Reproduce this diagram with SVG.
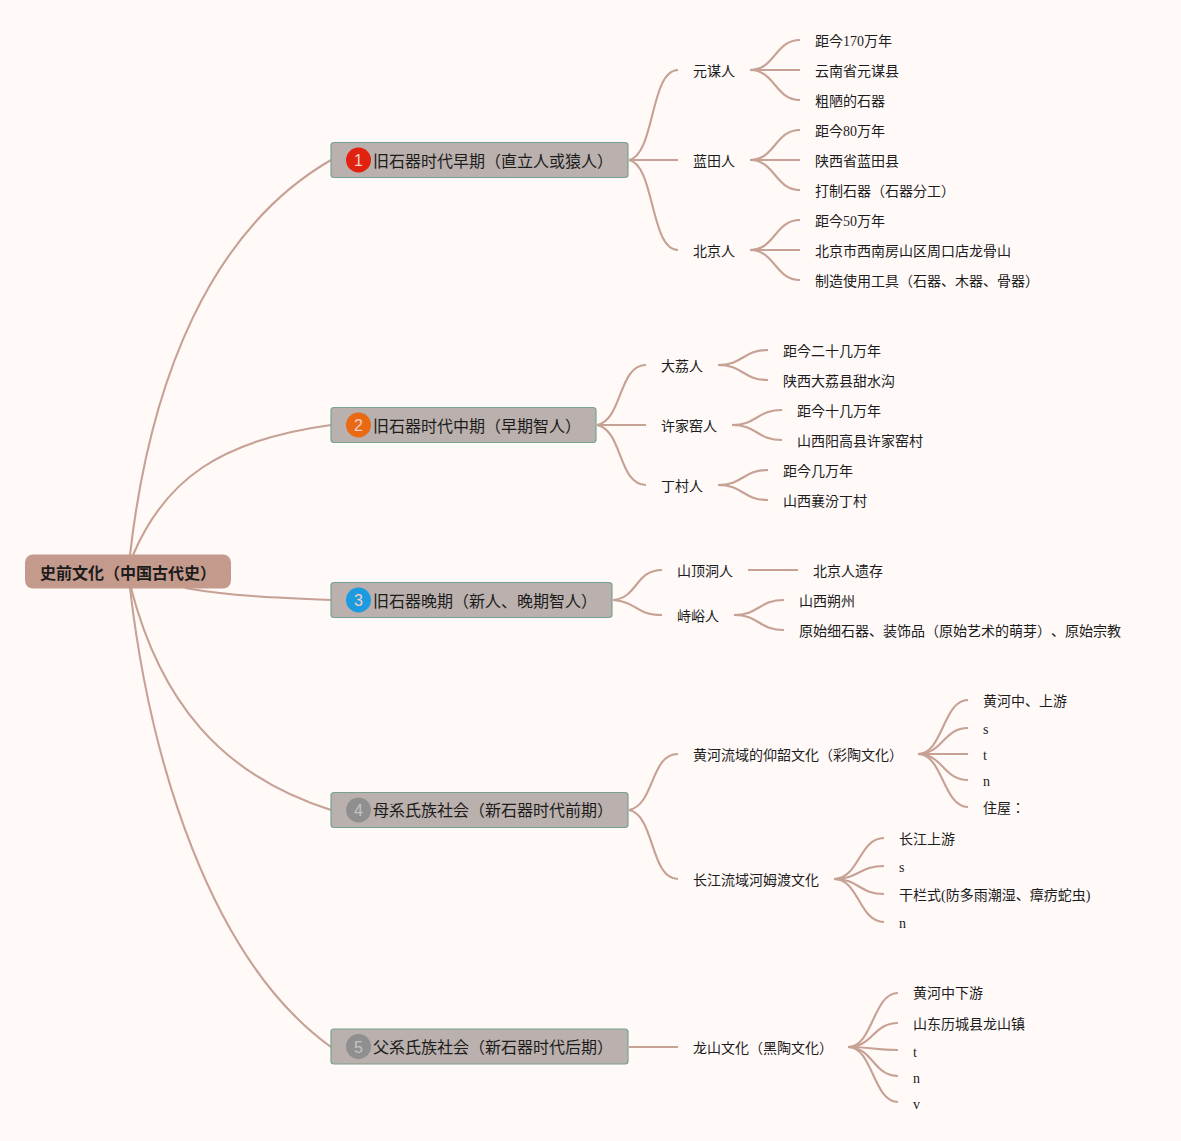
<svg xmlns="http://www.w3.org/2000/svg" width="1181" height="1141" viewBox="0 0 1181 1141">
<style>
text{font-family:"Liberation Serif","Noto Sans CJK JP",serif;fill:#1c1c1c;font-size:14px;text-spacing-trim:space-all}
.m{font-size:16px}
.r{font-size:16px;font-weight:700}
.b{fill:#bab0ad;stroke:#78a292;stroke-width:1.2}
.n{font-family:"Liberation Sans",sans-serif;font-size:16px;fill:#f3d0c8;text-anchor:middle}
.g{fill:#c4c4c4}
#c path{fill:none;stroke:#c6a194;stroke-width:2.100}
</style>
<rect width="1181" height="1141" fill="#fff9f8"/>
<g id="c">
<path d="M130 555C150 380 210 230 331 160"/>
<path d="M133 555C165 480 220 440 331 425"/>
<path d="M185 588C230 596 280 598 331 600"/>
<path d="M131 588C160 700 220 775 331 810"/>
<path d="M130 588C150 760 210 960 331 1047"/>
<path d="M629 160C655 155 650 70 678 70"/>
<path d="M629 160H678"/>
<path d="M629 160C655 165 650 250 678 250"/>
<path d="M750 70C775 70 775 40 800 40"/><path d="M750 70H800"/><path d="M750 70C775 70 775 100 800 100"/>
<path d="M750 160C775 160 775 130 800 130"/><path d="M750 160H800"/><path d="M750 160C775 160 775 190 800 190"/>
<path d="M750 250C775 250 775 220 800 220"/><path d="M750 250H800"/><path d="M750 250C775 250 775 280 800 280"/>
<path d="M597 425C623 420 618 365 646 365"/>
<path d="M597 425H646"/>
<path d="M597 425C623 430 618 485 646 485"/>
<path d="M718 365C743 365 743 350 768 350"/><path d="M718 365C743 365 743 380 768 380"/>
<path d="M732 425C757 425 757 410 782 410"/><path d="M732 425C757 425 757 440 782 440"/>
<path d="M718 485C743 485 743 470 768 470"/><path d="M718 485C743 485 743 500 768 500"/>
<path d="M613 600C638 598 635 570 662 570"/>
<path d="M613 600C638 602 635 615 662 615"/>
<path d="M748 570H798"/>
<path d="M734 615C759 615 759 600 784 600"/><path d="M734 615C759 615 759 630 784 630"/>
<path d="M629 810C655 805 650 754 678 754"/>
<path d="M629 810C655 815 650 879 678 879"/>
<path d="M918 754C943 754 943 700 968 700"/><path d="M918 754C943 754 943 728 968 728"/><path d="M918 754H968"/><path d="M918 754C943 754 943 780 968 780"/><path d="M918 754C943 754 943 807 968 807"/>
<path d="M834 879C859 879 859 838 884 838"/><path d="M834 879C859 879 859 866 884 866"/><path d="M834 879C859 879 859 894 884 894"/><path d="M834 879C859 879 859 922 884 922"/>
<path d="M629 1047H678"/>
<path d="M848 1047C873 1047 873 993 898 993"/><path d="M848 1047C873 1047 873 1023 898 1023"/><path d="M848 1047C873 1047 873 1050 898 1050"/><path d="M848 1047C873 1047 873 1076 898 1076"/><path d="M848 1047C873 1047 873 1102 898 1102"/>
</g>
<g id="root"><rect x="25" y="554.500" width="206" height="34" rx="8" fill="#c49a8c"/><text class="r" x="40" y="579">史前文化（中国古代史）</text></g>
<g id="n1"><rect class="b" x="331" y="142.500" width="297" height="35" rx="3"/><circle cx="358.500" cy="160" r="12.500" fill="#e0220f"/><text class="n" x="358.500" y="166">1</text><text class="m" x="373" y="167">旧石器时代早期（直立人或猿人）</text></g>
<g id="n2"><rect class="b" x="331" y="407.500" width="265" height="35" rx="3"/><circle cx="358.500" cy="425" r="12.500" fill="#ea6a14"/><text class="n" x="358.500" y="431">2</text><text class="m" x="373" y="432">旧石器时代中期（早期智人）</text></g>
<g id="n3"><rect class="b" x="331" y="582.500" width="281" height="35" rx="3"/><circle cx="358.500" cy="600" r="12.500" fill="#1d9be0"/><text class="n" x="358.500" y="606">3</text><text class="m" x="373" y="607">旧石器晚期（新人、晚期智人）</text></g>
<g id="n4"><rect class="b" x="331" y="792.500" width="297" height="35" rx="3"/><circle cx="358.500" cy="810" r="12.500" fill="#8f8f8f"/><text class="n g" x="358.500" y="816">4</text><text class="m" x="373" y="816">母系氏族社会（新石器时代前期）</text></g>
<g id="n5"><rect class="b" x="331" y="1029" width="297" height="35" rx="3"/><circle cx="358.500" cy="1046.500" r="12.500" fill="#8f8f8f"/><text class="n g" x="358.500" y="1052.500">5</text><text class="m" x="373" y="1053">父系氏族社会（新石器时代后期）</text></g>
<g id="a1"><text x="693" y="76">元谋人</text></g>
<g id="a1a"><text x="815" y="46">距今170万年</text></g>
<g id="a1b"><text x="815" y="76">云南省元谋县</text></g>
<g id="a1c"><text x="815" y="106">粗陋的石器</text></g>
<g id="a2"><text x="693" y="166">蓝田人</text></g>
<g id="a2a"><text x="815" y="136">距今80万年</text></g>
<g id="a2b"><text x="815" y="166">陕西省蓝田县</text></g>
<g id="a2c"><text x="815" y="196">打制石器（石器分工）</text></g>
<g id="a3"><text x="693" y="256">北京人</text></g>
<g id="a3a"><text x="815" y="226">距今50万年</text></g>
<g id="a3b"><text x="815" y="256">北京市西南房山区周口店龙骨山</text></g>
<g id="a3c"><text x="815" y="286">制造使用工具（石器、木器、骨器）</text></g>
<g id="b1"><text x="661" y="371">大荔人</text></g>
<g id="b1a"><text x="783" y="356">距今二十几万年</text></g>
<g id="b1b"><text x="783" y="386">陕西大荔县甜水沟</text></g>
<g id="b2"><text x="661" y="431">许家窑人</text></g>
<g id="b2a"><text x="797" y="416">距今十几万年</text></g>
<g id="b2b"><text x="797" y="446">山西阳高县许家窑村</text></g>
<g id="b3"><text x="661" y="491">丁村人</text></g>
<g id="b3a"><text x="783" y="476">距今几万年</text></g>
<g id="b3b"><text x="783" y="506">山西襄汾丁村</text></g>
<g id="c1"><text x="677" y="576">山顶洞人</text></g>
<g id="c1a"><text x="813" y="576">北京人遗存</text></g>
<g id="c2"><text x="677" y="621">峙峪人</text></g>
<g id="c2a"><text x="799" y="606">山西朔州</text></g>
<g id="c2b"><text x="799" y="636">原始细石器、装饰品（原始艺术的萌芽）、原始宗教</text></g>
<g id="d1"><text x="693" y="760">黄河流域的仰韶文化（彩陶文化）</text></g>
<g id="d1a"><text x="983" y="706">黄河中、上游</text></g>
<g id="d1b"><text x="983" y="734">s</text></g>
<g id="d1c"><text x="983" y="760">t</text></g>
<g id="d1d"><text x="983" y="786">n</text></g>
<g id="d1e"><text x="983" y="813">住屋：</text></g>
<g id="d2"><text x="693" y="885">长江流域河姆渡文化</text></g>
<g id="d2a"><text x="899" y="844">长江上游</text></g>
<g id="d2b"><text x="899" y="872">s</text></g>
<g id="d2c"><text x="899" y="900">干栏式(防多雨潮湿、瘴疠蛇虫)</text></g>
<g id="d2d"><text x="899" y="928">n</text></g>
<g id="e1"><text x="693" y="1053">龙山文化（黑陶文化）</text></g>
<g id="e1a"><text x="913" y="998">黄河中下游</text></g>
<g id="e1b"><text x="913" y="1029">山东历城县龙山镇</text></g>
<g id="e1c"><text x="913" y="1057">t</text></g>
<g id="e1d"><text x="913" y="1083">n</text></g>
<g id="e1e"><text x="913" y="1109">v</text></g>
</svg>
